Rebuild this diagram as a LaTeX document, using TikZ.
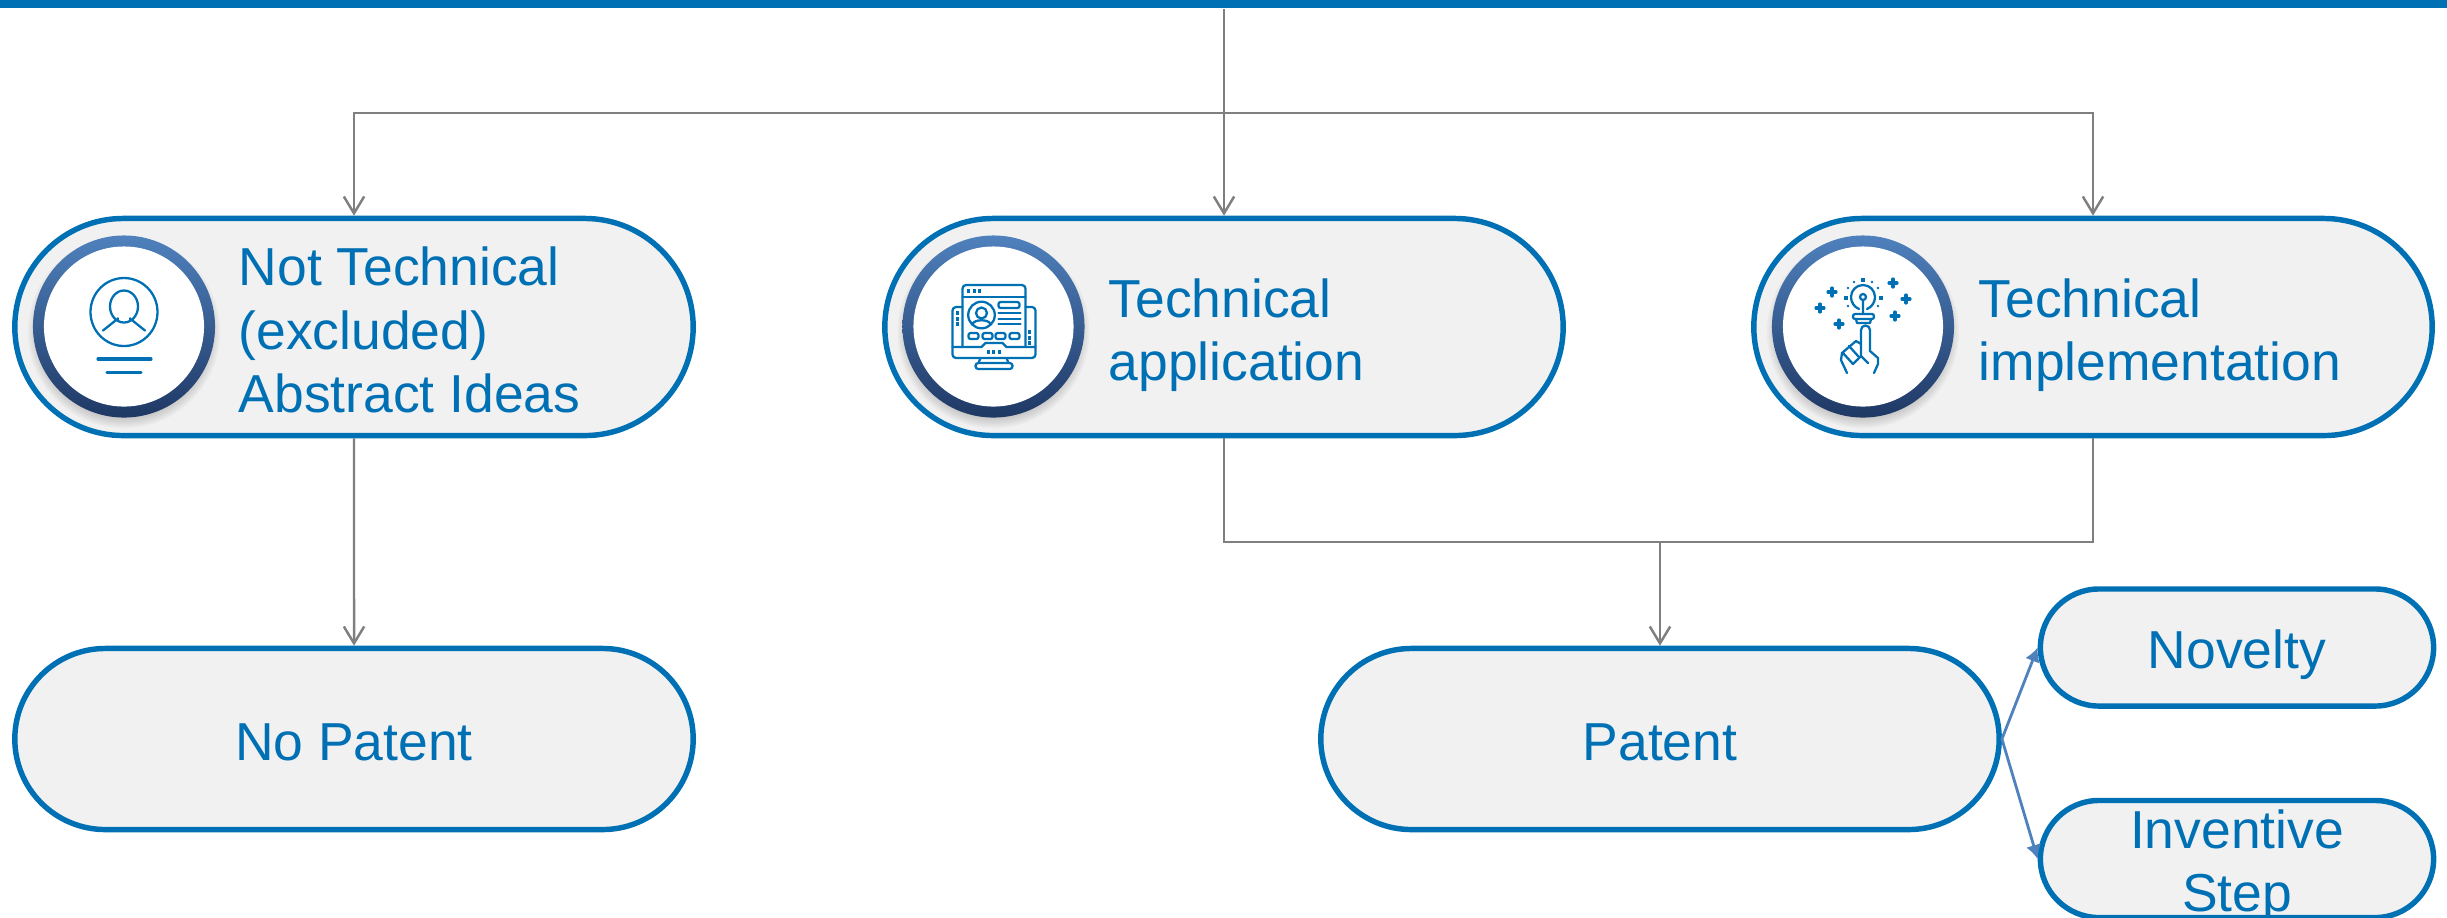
\documentclass[tikz,border=0pt]{standalone}
\usepackage{fontspec}
\setmainfont{Liberation Sans}
\usetikzlibrary{arrows.meta,shapes.misc}
\definecolor{mainblue}{HTML}{0070B5}
\definecolor{panelgray}{HTML}{F1F1F1}
\definecolor{linegray}{HTML}{7F7F7F}
\definecolor{ringblue}{HTML}{4F81BD}
\definecolor{ringdark}{HTML}{1F3864}
\tikzset{
  pill/.style = {rounded rectangle, draw=mainblue, fill=panelgray, line width=1.55pt,
                 text=mainblue, align=center, inner sep=0, text height=12pt, text depth=0pt,
                 font=\fontsize{15.2}{18.1}\selectfont},
  large pill/.style = {pill, minimum width=6.78cm, minimum height=2.17cm},
  low pill/.style = {pill, minimum width=6.78cm, minimum height=1.81cm},
  small pill/.style = {pill, minimum width=3.93cm, minimum height=1.17cm},
  pill text/.style = {anchor=west, inner sep=0, align=left, text=mainblue,
                 font=\fontsize{15.2}{18.1}\selectfont},
  ring/.style = {circle, inner sep=0, minimum size=1.82cm, top color=ringblue,
                 middle color=ringblue, bottom color=ringdark},
  disc/.style = {circle, inner sep=0, minimum size=1.6cm, fill=white},
  grayarrow/.style = {draw=linegray, line width=0.7pt,
                 -{Straight Barb[length=4.8pt,width=5.8pt]}},
  grayline/.style = {draw=linegray, line width=0.7pt},
  bluearrow/.style = {draw=ringblue, line width=0.8pt, -{Latex[length=4pt,width=4.4pt]}},
  icon/.style = {draw=mainblue, line width=0.65pt, line cap=round, line join=round},
  dot/.style = {fill=mainblue},
}
\begin{document}
\begin{tikzpicture}[x=0.01cm,y=-0.01cm]
    \useasboundingbox (0,0) rectangle (2447,917);
    \clip (0,0) rectangle (2447,917);
    \node[fill=mainblue, inner sep=0, minimum width=24.47cm, minimum height=0.08cm] (topbar) at (1223.5,4) {};

    % pills
    \node[large pill] (nottech) at (354,327) {};
    \node[large pill] (techapp) at (1224,327) {};
    \node[large pill] (techimpl) at (2093,327) {};
    \node[low pill] (nopatent) at (354,739) {No Patent};
    \node[low pill] (patent) at (1660,739) {Patent};
    \node[small pill] (novelty) at (2237,647.5) {Novelty};
    \node[small pill] (inventive) at (2237,859) {};

    % connectors
    \coordinate (split) at (1224,113);
    \coordinate (merge) at (1660,542);
    \draw[grayarrow] (topbar.south -| techapp) -- (techapp.north);
    \draw[grayarrow] (split) -| (nottech.north);
    \draw[grayarrow] (split) -| (techimpl.north);
    \draw[grayarrow] (nottech) -- (nopatent);
    \draw[grayline] (techapp.south) |- (merge);
    \draw[grayline] (techimpl.south) |- (merge);
    \draw[grayarrow] (merge) -- (patent.north);
    \draw[bluearrow] (patent.east) -- (novelty.west);
    \draw[bluearrow] (patent.east) -- (inventive.west);

    % rings with their soft shadows
    \foreach \cx/\nm in {124/a,993.5/b,1863/c}{
      \foreach \r in {96,94,...,86}
        \fill[black,opacity=.03] (\cx,332) circle (\r);
      \node[ring] (ring\nm) at (\cx,326.5) {};
      \node[disc] (disc\nm) at (\cx,326.5) {};
    }

    \node[pill text] (nottechtext) at (238,330) {Not Technical\\(excluded)\\Abstract Ideas};
    \node[pill text] (techapptext) at (1108,335) {Technical\\application};
    \node[pill text] (techimpltext) at (1978,335) {Technical\\implementation};
    \node[pill text,anchor=center,align=center] (inventivetext) at (2237,866) {Inventive\\Step};

    % person icon
    \begin{scope}[shift={(124,326.5)},icon]
      \draw (0,-14.5) ellipse (33.5 and 34);
      \draw (0,-20) ellipse (14 and 16);
      \draw (-21,4) -- (-6,-8) (21,4) -- (6,-8);
      \draw (-6,-8) -- (-6,-6) (6,-8) -- (6,-6);
      \draw[line width=.9pt] (-26,32.5) -- (27,32.5) (-17,46) -- (17,46);
    \end{scope}

    % screen icon
    \begin{scope}[shift={(993.5,327)},icon]
      \draw[rounded corners=1pt] (-31,20) -- (-31,-42) -- (32,-42) -- (32,20);
      \draw (-31,-30) -- (32,-30);
      \draw[rounded corners=1pt] (-31,-20) -- (-41,-20) -- (-41,31) -- (42,31) -- (42,-20) -- (32,-20);
      \draw (-41,20) -- (-12,20) -- (-8,16) -- (9,16) -- (13,20) -- (42,20);
      \draw (-13,31) -- (-15,36) (13,31) -- (15,36);
      \draw[rounded corners=.8pt] (-18,36) rectangle (19,42);
      \draw (-12,-12) circle (13.3);
      \draw (-12,-14) circle (5.5);
      \draw (-21,-3) .. controls (-19,-8) and (-5,-8) .. (-3,-3);
      \draw[rounded corners=.6pt] (5,-25) rectangle (26,-19);
      \foreach \ly in {-14,-8,-3} \draw (5,\ly) -- (27,\ly);
      \foreach \bx in {-25,-11,2,16} \draw[rounded corners=.6pt] (\bx,6) rectangle (\bx+10,12);
      \foreach \dx/\dy in {-25/-36,-19/-36,-14/-36,-36/-14,-36/-8,-36/-3,36/5,36/11,36/16,-5/25,0/25,6/25}
        \fill[dot] (\dx-1.6,\dy-1.6) rectangle (\dx+1.6,\dy+1.6);
    \end{scope}

    % idea icon
    \begin{scope}[shift={(1863,326)},icon]
      \draw (-4,-17) .. controls (-9,-19) and (-12,-24) .. (-12,-29) arc (180:360:12)
            .. controls (12,-24) and (9,-19) .. (4,-17);
      \draw (0,-29) circle (3) (0,-26) -- (0,-13);
      \draw[rounded corners=.6pt] (-10,-12) rectangle (11,-7);
      \draw (-7,-7) -- (-6,-3) -- (7,-3) -- (8,-7);
      \foreach \dx/\dy in {0/-46,-17/-28,18/-28}
        \fill[dot] (\dx-2,\dy-2) rectangle (\dx+2,\dy+2);
      \foreach \dx/\dy in {-9/-44,9/-44,-15/-38,15/-38,-15/-20,15/-20}
        \fill[dot] (\dx,\dy) circle (1.4);
      \foreach \dx/\dy in {-31/-34,-43/-18,-24/-2,30/-43,43/-27,32/-10}
        \draw[line width=.9pt] (\dx-4,\dy) -- (\dx+4,\dy) (\dx,\dy-4) -- (\dx,\dy+4);
      \draw (-2,30) -- (-2,4) arc (180:360:4.5) -- (7,25) -- (15,32) -- (15,38) -- (11,47);
      \draw (-16,47) -- (-22,34) -- (-21,27) -- (-7,15) -- (-2,18);
      \draw (-14,20) -- (-5,30) (-20,27) -- (-10,38) -- (-2,30) -- (5,37);
    \end{scope}
\end{tikzpicture}
\end{document}
